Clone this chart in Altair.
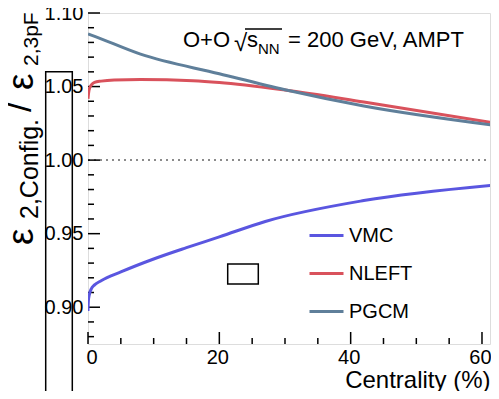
import altair as alt
import pandas as pd

FONT = "Liberation Sans"

# ---- data ----
series_names = ["VMC", "NLEFT", "PGCM"]
series_colors = ["#5a56e0", "#d9525c", "#5f7f9a"]

vmc_x = [0, 0.05, 0.2, 0.5, 1, 2, 5, 10, 15, 20, 27, 42, 62]
vmc_y = [0.8975, 0.904, 0.9085, 0.9125, 0.9152, 0.918, 0.924, 0.9328, 0.9405, 0.9478, 0.9583, 0.9725, 0.9831]

nleft_x = [0, 0.1, 0.3, 0.6, 1, 2, 4, 8, 16, 20, 30, 42, 62]
nleft_y = [1.0417, 1.046, 1.0495, 1.0515, 1.0528, 1.0537, 1.0545, 1.0548, 1.054, 1.0528, 1.0476, 1.0395, 1.0252]

pgcm_x = [0, 0.5, 8, 20, 30, 42, 62]
pgcm_y = [1.0858, 1.085, 1.072, 1.0587, 1.0478, 1.0368, 1.0236]

y_major = [0.90, 0.95, 1.00, 1.05, 1.10]
y_minor = [0.88, 0.89, 0.91, 0.92, 0.93, 0.94, 0.96, 0.97, 0.98, 0.99,
           1.01, 1.02, 1.03, 1.04, 1.06, 1.07, 1.08, 1.09]
x_major = [0, 20, 40, 60]
x_minor = [5, 10, 15, 25, 30, 35, 45, 50, 55]
ref_level = [1.00]

W, H = 402, 331

rows = []
for name, xs_, ys_ in [("VMC", vmc_x, vmc_y), ("NLEFT", nleft_x, nleft_y), ("PGCM", pgcm_x, pgcm_y)]:
    for i, (a, b) in enumerate(zip(xs_, ys_)):
        rows.append({"series": name, "c": a, "r": b, "o": i})
df = pd.DataFrame(rows)

xs = alt.Scale(domain=[0, 61.22], nice=False, zero=False)
ys = alt.Scale(domain=[0.875, 1.10], nice=False, zero=False)

lines = alt.Chart(df).mark_line(strokeWidth=3, interpolate="monotone", clip=True).encode(
    x=alt.X("c:Q", scale=xs,
            axis=alt.Axis(values=x_major, ticks=False, domain=False, grid=False,
                          labelFontSize=20, labelFont=FONT, labelColor="black", labelPadding=3,
                          labelOffset=-2,
                          title="Centrality (%)", titleFont=FONT, titleFontSize=24,
                          titleFontWeight="normal", titleColor="black",
                          titleX=W, titleY=43, titleAlign="right", titleAnchor="end",
                          titleBaseline="alphabetic")),
    y=alt.Y("r:Q", scale=ys,
            axis=alt.Axis(values=y_major, format=".2f", ticks=False, domain=False, grid=False,
                          labelFontSize=20, labelFont=FONT, labelColor="black", labelPadding=5,
                          title=None)),
    color=alt.Color("series:N",
                    scale=alt.Scale(domain=series_names, range=series_colors),
                    legend=alt.Legend(title=None, orient="none", legendX=220, legendY=204,
                                      symbolType="stroke", symbolStrokeWidth=3, symbolSize=1156,
                                      labelFont=FONT, labelFontSize=20, labelColor="black",
                                      labelOffset=4, rowPadding=9, padding=0)),
    order="o:Q",
)

ref = alt.Chart(pd.DataFrame({"v": ref_level})).mark_rule(
    color="#666666", strokeWidth=1.5, strokeDash=[2, 4]).encode(
    y=alt.Y("v:Q", scale=ys), x=alt.value(0), x2=alt.value(W))

ymaj = alt.Chart(pd.DataFrame({"v": y_major})).mark_rule(color="black", strokeWidth=1.5).encode(
    y=alt.Y("v:Q", scale=ys), x=alt.value(0), x2=alt.value(12))
ymin = alt.Chart(pd.DataFrame({"v": y_minor})).mark_rule(color="black", strokeWidth=1.5).encode(
    y=alt.Y("v:Q", scale=ys), x=alt.value(0), x2=alt.value(6))
xmaj = alt.Chart(pd.DataFrame({"v": x_major})).mark_rule(color="black", strokeWidth=1.5).encode(
    x=alt.X("v:Q", scale=xs), y=alt.value(H), y2=alt.value(H - 12))
xmin = alt.Chart(pd.DataFrame({"v": x_minor})).mark_rule(color="black", strokeWidth=1.5).encode(
    x=alt.X("v:Q", scale=xs), y=alt.value(H), y2=alt.value(H - 6))

# ---- y-axis title built from pieces (rotated) ----
def rot_text(t, x, y, size):
    return alt.Chart(pd.DataFrame({"t": [t]})).mark_text(
        angle=270, align="left", baseline="alphabetic", font=FONT, fontSize=size, color="black"
    ).encode(text="t:N", x=alt.value(x), y=alt.value(y))

def txt(t, x, y, size):
    return alt.Chart(pd.DataFrame({"t": [t]})).mark_text(
        align="left", baseline="alphabetic", font=FONT, fontSize=size, color="black"
    ).encode(text="t:N", x=alt.value(x), y=alt.value(y))

ytitle = [
    rot_text("ε", -55, 232, 37),
    rot_text("2,Config.", -50, 206, 25),
    rot_text("/", -57, 99, 34),
    rot_text("ε", -55, 77, 37),
    rot_text("2,3pF", -50, 53, 21),
]

header = [
    txt("O+O", 95, 34, 22),
    txt("√", 146, 38, 24),
    txt("s", 159, 34, 22),
    txt("NN", 170, 41, 15),
    txt("= 200 GeV, AMPT", 200, 34, 22),
]
overline = alt.Chart(pd.DataFrame({"k": [0]})).mark_rule(color="black", strokeWidth=1.5).encode(
    x=alt.value(157), x2=alt.value(194), y=alt.value(16))

# stray boxes present in the original figure
box1 = alt.Chart(pd.DataFrame({"k": [0]})).mark_rect(fill=None, stroke="black", strokeWidth=1.5).encode(
    x=alt.value(-42.3), x2=alt.value(-15.7), y=alt.value(58.7), y2=alt.value(400))
box2 = alt.Chart(pd.DataFrame({"k": [0]})).mark_rect(fill=None, stroke="black", strokeWidth=1.5).encode(
    x=alt.value(139.7), x2=alt.value(170.3), y=alt.value(251), y2=alt.value(271))

chart = alt.layer(
    ref, ymaj, ymin, xmaj, xmin, lines, *ytitle, *header, overline, box1, box2
).properties(
    width=W, height=H,
    autosize=alt.AutoSizeParams(type="none"),
    padding={"left": 80, "top": 5, "right": 1, "bottom": 47},
).configure_view(
    stroke="black", strokeWidth=1.5
).configure(background="white")

chart.save("out.html", embed_options={"renderer": "svg", "actions": False})
